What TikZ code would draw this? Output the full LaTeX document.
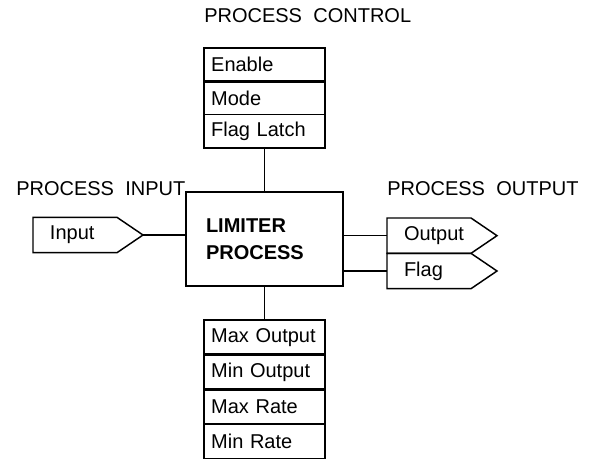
\documentclass[tikz,border=0pt]{standalone}
\usepackage{fontspec}
\setmainfont{Liberation Sans}
\usetikzlibrary{positioning}

\tikzset{
  wire/.style={line width=1.1pt},
  divider/.style={line width=1.9pt},
  heading/.style={font=\fontsize{15}{18}\selectfont,inner sep=0pt},
  process/.style={draw,wire,outer sep=0pt,minimum width=117.75pt,minimum height=70.5pt,
    text width=87.75pt,inner xsep=15pt,align=left,font=\bfseries\fontsize{15}{20.25}\selectfont},
  stackrow/.style={draw,wire,outer sep=0pt,text width=80pt,inner xsep=5.375pt,inner ysep=0pt,align=left},
  port/.style={outer sep=0pt,text width=57pt,inner xsep=12.75pt,inner ysep=0pt,minimum height=26.5pt,align=left}
}

\begin{document}
\begin{tikzpicture}[x=0.75pt,y=-0.75pt,font=\fontsize{15}{18}\selectfont]
\useasboundingbox (0,0) rectangle (590,462);

% limiter block
\node[process] (limiter) at (264.5,239) {LIMITER\\PROCESS};

% control stack above
\node[stackrow,minimum height=25pt,anchor=north] (enable) at (264.5,48) {Enable};
\node[stackrow,minimum height=25pt,below=0pt of enable] (mode) {Mode};
\node[stackrow,minimum height=25pt,below=0pt of mode] (latch) {Flag Latch};
\draw[divider] (enable.south west) -- (enable.south east);

% parameter stack below
\node[stackrow,minimum height=26pt,anchor=north] (maxout) at (264.5,320) {Max Output};
\node[stackrow,minimum height=26pt,below=0pt of maxout] (minout) {Min Output};
\node[stackrow,minimum height=26pt,below=0pt of minout] (maxrate) {Max Rate};
\node[stackrow,minimum height=26pt,below=0pt of maxrate] (minrate) {Min Rate};
\foreach \r in {maxout,minout,maxrate}
  \draw[divider] (\r.south west) -- (\r.south east);

% signal ports
\node[port,anchor=west] (input) at (33,235) {Input};
\node[port,anchor=north west] (output) at (387,218) {Output};
\node[port,below=0pt of output] (flag) {Flag};
\foreach \p in {input,output,flag}
  \draw[wire] (\p.north west) -- ([xshift=-19.5pt]\p.north east) -- (\p.east)
    -- ([xshift=-19.5pt]\p.south east) -- (\p.south west) -- cycle;

% connectors
\draw[wire] (latch.south) -- (limiter.north);
\draw[wire] (limiter.south) -- (maxout.north);
\draw[wire] (input.east) -- (input.east -| limiter.west);
\draw[wire] (output.west -| limiter.east) -- (output.west);
\draw[wire] (flag.west -| limiter.east) -- (flag.west);

% headings
\node[heading,anchor=base west] (control-title) at (204,22.7) {PROCESS\hspace{8.5pt}CONTROL};
\node[heading,anchor=base west] (input-title) at (16,195) {PROCESS\hspace{8.5pt}INPUT};
\node[heading,anchor=base west] (output-title) at (387,195) {PROCESS\hspace{8.5pt}OUTPUT};
\end{tikzpicture}
\end{document}
